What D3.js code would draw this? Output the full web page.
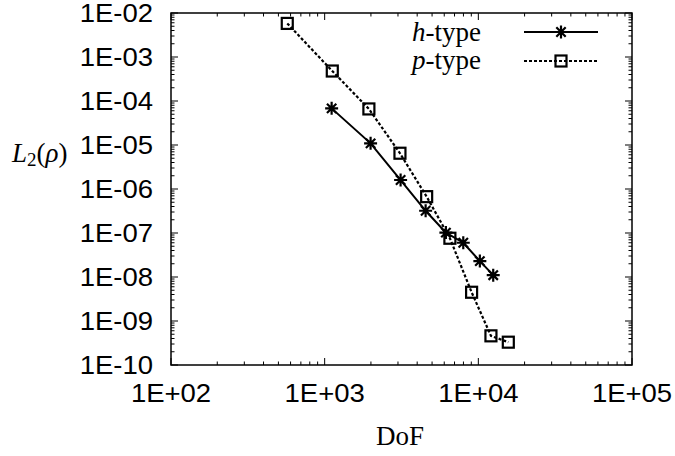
<!DOCTYPE html>
<html>
<head>
<meta charset="utf-8">
<script src="https://cdn.jsdelivr.net/npm/d3@7"></script>
<style>
  html, body { margin: 0; padding: 0; background: #fff; }
  svg { display: block; }
</style>
</head>
<body>
<script>
const width = 675;
const height = 456;

// DoF / error data
const hDof = [1110, 1990, 3120, 4540, 6150, 7980, 10230, 12500];
const hErr = [6.8e-5, 1.09e-5, 1.6e-6, 3.2e-7, 1.02e-7, 6.0e-8, 2.3e-8, 1.1e-8];
const pDof = [571, 1121, 1940, 3090, 4610, 6530, 9040, 12080, 15670];
const pErr = [5.8e-3, 4.8e-4, 6.6e-5, 6.5e-6, 6.7e-7, 7.6e-8, 4.5e-9, 4.6e-10, 3.3e-10];

const xTicks = [1e2, 1e3, 1e4, 1e5];
const yTicks = [1e-10, 1e-9, 1e-8, 1e-7, 1e-6, 1e-5, 1e-4, 1e-3, 1e-2];

const pl = 171, pr = 632, pt = 13, pb = 365;

const x = d3.scaleLog().domain([1e2, 1e5]).range([pl, pr]);
const y = d3.scaleLog().domain([1e-10, 1e-2]).range([pb, pt]);

const svg = d3.select("body").append("svg")
    .attr("width", width)
    .attr("height", height);

// E-notation like gnuplot: 1E+02, 1E-05
const fmt = v => {
    const e = Math.round(Math.log10(v));
    return "1E" + (e < 0 ? "-" : "+") + String(Math.abs(e)).padStart(2, "0");
};

// minor ticks at 2..9 within each decade
const minors = (ticks) => {
    const out = [];
    ticks.slice(0, -1).forEach(t => {
        for (let k = 2; k <= 9; k++) out.push(t * k);
    });
    return out;
};

const tickG = svg.append("g").attr("stroke", "#000").attr("stroke-width", 1);

// x ticks, bottom and top, drawn inward
xTicks.forEach(t => {
    tickG.append("line").attr("x1", x(t)).attr("x2", x(t)).attr("y1", pb).attr("y2", pb - 7);
    tickG.append("line").attr("x1", x(t)).attr("x2", x(t)).attr("y1", pt).attr("y2", pt + 7);
});
minors(xTicks).forEach(t => {
    tickG.append("line").attr("x1", x(t)).attr("x2", x(t)).attr("y1", pb).attr("y2", pb - 3.5);
    tickG.append("line").attr("x1", x(t)).attr("x2", x(t)).attr("y1", pt).attr("y2", pt + 3.5);
});
yTicks.forEach(t => {
    tickG.append("line").attr("y1", y(t)).attr("y2", y(t)).attr("x1", pl).attr("x2", pl + 7);
    tickG.append("line").attr("y1", y(t)).attr("y2", y(t)).attr("x1", pr).attr("x2", pr - 7);
});
minors(yTicks).forEach(t => {
    tickG.append("line").attr("y1", y(t)).attr("y2", y(t)).attr("x1", pl).attr("x2", pl + 3.5);
    tickG.append("line").attr("y1", y(t)).attr("y2", y(t)).attr("x1", pr).attr("x2", pr - 3.5);
});

// frame
svg.append("rect")
    .attr("x", pl).attr("y", pt)
    .attr("width", pr - pl).attr("height", pb - pt)
    .attr("fill", "none").attr("stroke", "#000").attr("stroke-width", 1.5);

// tick labels
svg.append("g").selectAll("text")
    .data(xTicks)
    .join("text")
    .attr("transform", d => `translate(${x(d)},402) scale(1.1,1)`)
    .attr("text-anchor", "middle")
    .attr("font-family", "Liberation Sans, Arial, sans-serif")
    .attr("font-size", 25)
    .text(fmt);

svg.append("g").selectAll("text")
    .data(yTicks)
    .join("text")
    .attr("transform", d => `translate(153,${y(d) + 9}) scale(1.1,1)`)
    .attr("text-anchor", "end")
    .attr("font-family", "Liberation Sans, Arial, sans-serif")
    .attr("font-size", 25)
    .text(fmt);

// axis titles
const serif = "Liberation Serif, Times New Roman, serif";
svg.append("text")
    .attr("x", 400).attr("y", 445)
    .attr("text-anchor", "middle")
    .attr("font-family", serif)
    .attr("font-size", 27)
    .text("DoF");

const yl = svg.append("text")
    .attr("x", 12).attr("y", 162)
    .attr("font-family", serif)
    .attr("font-size", 27);
yl.append("tspan").attr("font-style", "italic").text("L");
yl.append("tspan").attr("font-size", 19).attr("dy", 4).text("2");
yl.append("tspan").attr("dy", -4).text("(");
yl.append("tspan").attr("font-style", "italic").text("ρ");
yl.append("tspan").text(")");

// series
const line = d3.line().x(d => x(d[0])).y(d => y(d[1]));
const hData = d3.zip(hDof, hErr);
const pData = d3.zip(pDof, pErr);

svg.append("path")
    .datum(hData)
    .attr("d", line)
    .attr("fill", "none").attr("stroke", "#000").attr("stroke-width", 2);

svg.append("path")
    .datum(pData)
    .attr("d", line)
    .attr("fill", "none").attr("stroke", "#000").attr("stroke-width", 2.2)
    .attr("stroke-dasharray", "3,2");

const star = (g, cx, cy) => {
    const r = 6.5, d = r * 0.72;
    const p = `M${cx - r},${cy}H${cx + r}M${cx},${cy - r}V${cy + r}` +
              `M${cx - d},${cy - d}L${cx + d},${cy + d}M${cx - d},${cy + d}L${cx + d},${cy - d}`;
    g.append("path").attr("d", p).attr("stroke", "#000").attr("stroke-width", 2.2).attr("fill", "none");
};
const square = (g, cx, cy) => {
    g.append("rect")
        .attr("x", cx - 5.5).attr("y", cy - 5.5)
        .attr("width", 11).attr("height", 11)
        .attr("fill", "none").attr("stroke", "#000").attr("stroke-width", 2.2);
};

const marks = svg.append("g");
hData.forEach(d => star(marks, x(d[0]), y(d[1])));
pData.forEach(d => square(marks, x(d[0]), y(d[1])));

// legend
const leg = svg.append("g").attr("font-family", serif).attr("font-size", 27);
const t1 = leg.append("text").attr("x", 481).attr("y", 41).attr("text-anchor", "end");
t1.append("tspan").attr("font-style", "italic").text("h");
t1.append("tspan").text("-type");
const t2 = leg.append("text").attr("x", 481).attr("y", 69).attr("text-anchor", "end");
t2.append("tspan").attr("font-style", "italic").text("p");
t2.append("tspan").text("-type");

leg.append("line").attr("x1", 524).attr("x2", 598).attr("y1", 32).attr("y2", 32)
    .attr("stroke", "#000").attr("stroke-width", 2);
star(leg, 561, 32);
leg.append("line").attr("x1", 524).attr("x2", 598).attr("y1", 61).attr("y2", 61)
    .attr("stroke", "#000").attr("stroke-width", 2.2).attr("stroke-dasharray", "3,2");
square(leg, 561, 61);
</script>
</body>
</html>
